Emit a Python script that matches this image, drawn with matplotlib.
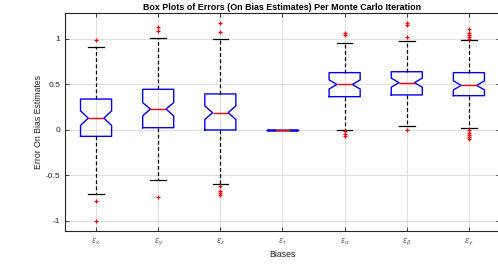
import numpy as np
import matplotlib.pyplot as plt

# values
labels = [r'$\epsilon_x$', r'$\epsilon_y$', r'$\epsilon_z$', r'$\epsilon_\tau$',
          r'$\epsilon_\alpha$', r'$\epsilon_\beta$', r'$\epsilon_\gamma$']
medians = [0.13, 0.23, 0.19, 0.0, 0.50, 0.52, 0.49]
q1s = [-0.07, 0.025, 0.0, 0.0, 0.366, 0.385, 0.377]
q3s = [0.34, 0.447, 0.396, 0.0, 0.63, 0.64, 0.63]
whisk_lo = [-0.70, -0.55, -0.59, 0.0, -0.005, 0.047, 0.025]
whisk_hi = [0.915, 1.007, 1.0, 0.0, 0.96, 0.98, 0.99]
ci_lo = [0.05, 0.155, 0.115, 0.0, 0.45, 0.47, 0.44]
ci_hi = [0.21, 0.30, 0.265, 0.0, 0.55, 0.57, 0.54]
outliers = [
    [0.99, -0.78, -1.0],
    [1.09, 1.135, -0.74],
    [1.077, 1.17, -0.62, -0.67, -0.69, -0.71],
    [],
    [1.04, 1.07, -0.015, -0.04, -0.066],
    [1.025, 1.15, 1.17, 0.0],
    [1.0, 1.02, 1.04, 1.07, 1.11, -0.005, -0.03, -0.06, -0.08, -0.1],
]

txt = '#262626'
plt.rcParams['font.family'] = ['Liberation Sans', 'DejaVu Sans']

stats = []
for i in range(len(labels)):
    stats.append(dict(med=medians[i], q1=q1s[i], q3=q3s[i],
                      whislo=whisk_lo[i], whishi=whisk_hi[i],
                      cilo=ci_lo[i], cihi=ci_hi[i],
                      fliers=np.array(outliers[i]), label=labels[i]))

fig = plt.figure(figsize=(4.98, 2.64), dpi=100, facecolor='white')
ax = fig.add_axes([0.1305, 0.125, 0.8735, 0.826])

ax.bxp(stats, positions=np.arange(1, len(labels) + 1), widths=0.5, capwidths=0.25,
       shownotches=True, patch_artist=False,
       boxprops=dict(color='blue', linewidth=1.0),
       medianprops=dict(color='red', linewidth=1.0),
       whiskerprops=dict(color='black', linestyle=(0, (3, 2)), linewidth=0.9),
       capprops=dict(color='black', linewidth=0.9),
       flierprops=dict(marker='+', markeredgecolor='red', markersize=3,
                       markeredgewidth=0.9, linestyle='none'))

ax.set_xlim(0.5, 7.5)
ax.set_ylim(-1.11, 1.286)
ax.set_yticks([-1, -0.5, 0, 0.5, 1])
ax.set_yticklabels(['-1', '-0.5', '0', '0.5', '1'])
ax.grid(True, color='#dedede', linewidth=0.7)
ax.set_axisbelow(True)

ax.tick_params(direction='in', length=3, width=0.6, colors=txt,
               labelsize=6, top=True, right=True)
ax.tick_params(axis='x', labelsize=5.5, pad=4, labelcolor='#666666')
for s in ax.spines.values():
    s.set_color(txt)
    s.set_linewidth(0.8)

ax.set_title('Box Plots of Errors (On Bias Estimates) Per Monte Carlo Iteration',
             fontsize=6.4, fontweight='bold', color='black', pad=2)
ax.set_xlabel('Biases', fontsize=6.3, color=txt, labelpad=2)
ax.set_ylabel('Error On Bias Estimates', fontsize=6.3, color=txt, labelpad=2)

fig.savefig('out.png', dpi=100)
